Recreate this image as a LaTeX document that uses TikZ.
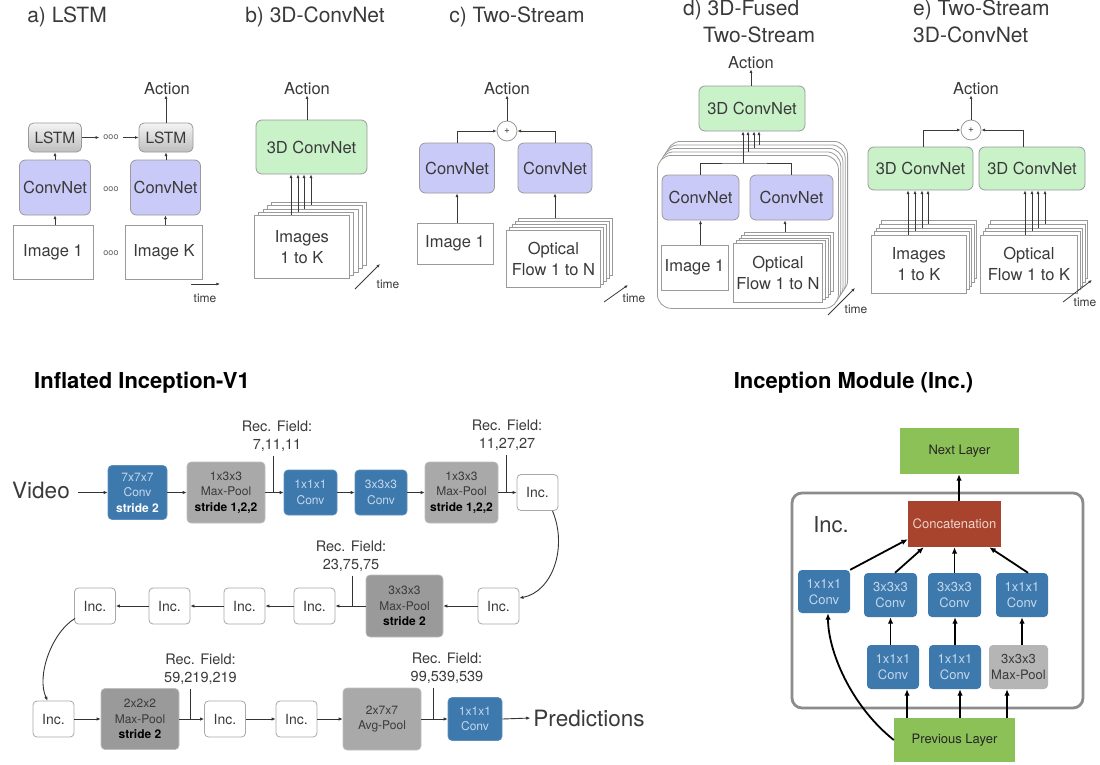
\documentclass[tikz,border=0pt]{standalone}
\usepackage{fontspec}
\setmainfont{TeX Gyre Heros}
\usetikzlibrary{arrows.meta,calc}

\definecolor{ink}{HTML}{3A3A3A}
\definecolor{boxline}{HTML}{9A9A9A}
\definecolor{purpfill}{HTML}{CACAF8}
\definecolor{greenfill}{HTML}{C9F2C9}
\definecolor{lstmtop}{HTML}{F4F4F4}
\definecolor{lstmbot}{HTML}{BEBEBE}
\definecolor{convfill}{HTML}{3E79AD}
\definecolor{convline}{HTML}{5F8FBC}
\definecolor{convtext}{HTML}{C4D8EC}
\definecolor{poolfill}{HTML}{A9A9A9}
\definecolor{pooldark}{HTML}{9A9A9A}
\definecolor{pooltext}{HTML}{3A3A3A}
\definecolor{incline}{HTML}{A8A8A8}
\definecolor{layergreen}{HTML}{8CC157}
\definecolor{catfill}{HTML}{A8442E}
\definecolor{cattext}{HTML}{EFD2CA}
\definecolor{modline}{HTML}{8C8C8C}

\newcommand\setfs[2]{\fontsize{#1}{#2}\selectfont}

\tikzset{
  plain/.style={inner sep=0pt, align=center, text=ink},
  lbl/.style={plain, font=\setfs{16.5}{21}},
  ttl/.style={plain, font=\setfs{21}{25}},
  bttl/.style={plain, text=black, font=\setfs{22}{26}\bfseries},
  tm/.style={plain, font=\setfs{12}{14}},
  dots/.style={plain, inner sep=4pt, text=black!60, font=\setfs{9}{9}},
  purpbox/.style={lbl, draw=boxline, fill=purpfill, rounded corners=6, line width=0.8},
  greenbox/.style={lbl, draw=boxline, fill=greenfill, rounded corners=6, line width=0.8},
  lstmbox/.style={plain, font=\setfs{15.5}{18}, draw=boxline, top color=lstmtop, bottom color=lstmbot, rounded corners=5, line width=0.8},
  framebox/.style={lbl, draw=boxline, fill=white, line width=0.8},
  sheet/.style={draw=boxline, fill=white, line width=0.8, inner sep=0pt},
  sumnode/.style={circle, draw=boxline, fill=white, line width=0.8, minimum size=20, inner sep=0pt, font=\setfs{10}{10}, text=ink},
  arr/.style={draw=ink, line width=0.8, -{Latex[length=3.6,width=3]}},
  link/.style={draw=ink, line width=0.8},
  convbox/.style={plain, draw=convline, fill=convfill, rounded corners=4, line width=0.6, text=convtext, font=\setfs{12}{15.5}},
  poolbox/.style={plain, draw=black!25, fill=poolfill, rounded corners=4, line width=0.6, text=pooltext, font=\setfs{12}{15.5}},
  incbox/.style={plain, draw=incline, fill=white, rounded corners=4, line width=0.8, minimum width=41, minimum height=36, font=\setfs{14}{16}},
  rfl/.style={plain, font=\setfs{14.5}{18}},
  big/.style={plain, font=\setfs{22.5}{26}},
  chain/.style={draw=black!80, line width=0.9, -{Latex[length=4,width=3.4]}},
  tick/.style={draw=black!80, line width=0.9},
  mbox/.style={plain, fill=convfill, rounded corners=4, text=convtext, font=\setfs{13}{16}},
  mpool/.style={plain, fill=black!29, rounded corners=4, text=pooltext, font=\setfs{13}{16}},
  greenlayer/.style={plain, fill=layergreen, font=\setfs{13}{16}, text=black!85},
  catbox/.style={plain, fill=catfill, text=cattext, font=\setfs{13}{16}, minimum width=93, minimum height=46},
  modbox/.style={draw=modline, line width=2.8, rounded corners=10, inner sep=0pt},
  marr/.style={draw=black, line width=1.8, -{Latex[length=6.5,width=5.5]}},
}

\begin{document}
\begin{tikzpicture}[x=1pt,y=-1pt]
\path[use as bounding box, fill=white] (0,0) rectangle (1100,764);

%% ---------------- a) LSTM ----------------
\node[ttl] (ta) at (67,17) {a) LSTM};
\node[lbl] (aact) at (167,89) {Action};
\node[lstmbox, minimum width=53, minimum height=29] (al1) at (55,137.5) {LSTM};
\node[lstmbox, minimum width=54, minimum height=29] (al2) at (166,137.5) {LSTM};
\node[dots] (ad1) at (111,137.5) {ooo};
\node[purpbox, minimum width=71, minimum height=55] (acn1) at (55,187.5) {ConvNet};
\node[purpbox, minimum width=70, minimum height=55] (acn2) at (165.5,187.5) {ConvNet};
\node[dots] (ad2) at (111,189) {ooo};
\node[framebox, minimum width=80, minimum height=54] (aim1) at (53,252) {Image 1};
\node[framebox, minimum width=77, minimum height=54] (aimK) at (164,252) {Image K};
\node[dots] (ad3) at (111,253) {ooo};
\draw[arr] (aim1.north -| acn1.south) -- (acn1.south);
\draw[arr] (aimK.north -| acn2.south) -- (acn2.south);
\draw[arr] (acn1.north) -- (al1.south);
\draw[arr] (acn2.north -| al2.south) -- (al2.south);
\draw[arr] (al1.east) -- (ad1.west);
\draw[arr] (ad1.east) -- (al2.west);
\draw[arr] (al2.north) -- (al2.north |- aact.south);
\coordinate (at0) at (191,284);
\coordinate (at1) at (220,284);
\draw[arr] (at0) -- (at1);
\node[tm] (atime) at (205,298) {time};

%% ---------------- b) 3D-ConvNet ----------------
\node[ttl] (tb) at (315,17) {b) 3D-ConvNet};
\node[lbl] (bact) at (307,89) {Action};
\node[greenbox, minimum width=111, minimum height=54] (b3d) at (311.5,147) {3D ConvNet};
\foreach \k in {4,3,2,1}
  \node[sheet, minimum width=95, minimum height=63, anchor=north west] (bimg\k) at ({254+4.25*\k},{215-3.25*\k}) {};
\node[framebox, minimum width=95, minimum height=63, anchor=north west] (bimg0) at (254,215) {Images\\1 to K};
\foreach \k/\xx in {0/291,1/298,2/304,3/311}
  \draw[arr] (\xx,0 |- bimg\k.north) -- (\xx,0 |- b3d.south);
\draw[arr] (bact.south |- b3d.north) -- (bact.south);
\coordinate (bt0) at (355,289);
\coordinate (bt1) at (380,264);
\draw[arr] (bt0) -- (bt1);
\node[tm] (btime) at (388,284) {time};

%% ---------------- c) Two-Stream ----------------
\node[ttl] (tc) at (517,17) {c) Two-Stream};
\node[lbl] (cact) at (507,89) {Action};
\node[sumnode] (cplus) at (507,131) {+};
\node[purpbox, minimum width=75, minimum height=50] (ccn1) at (457,168) {ConvNet};
\node[purpbox, minimum width=74, minimum height=50] (ccn2) at (555,168) {ConvNet};
\node[framebox, minimum width=76, minimum height=41] (cim1) at (455,243.5) {Image 1};
\foreach \k in {4,3,2,1}
  \node[sheet, minimum width=94, minimum height=57, anchor=north west] (copt\k) at ({506+3*\k},{230-3*\k}) {};
\node[framebox, minimum width=94, minimum height=57, anchor=north west] (copt0) at (506,230) {Optical\\Flow 1 to N};
\draw[arr] (cim1.north -| ccn1.south) -- (ccn1.south);
\draw[arr] (ccn2.south |- copt4.north) -- (ccn2.south);
\draw[arr] (ccn1.north) |- (cplus.west);
\draw[arr] (ccn2.north) |- (cplus.east);
\draw[arr] (cplus.north) -- (cact.south);
\coordinate (ct0) at (604,302);
\coordinate (ct1) at (628,285);
\draw[arr] (ct0) -- (ct1);
\node[tm] (ctime) at (634,298) {time};

%% ---------------- d) 3D-Fused Two-Stream ----------------
\node[ttl, anchor=west] (td1) at (683,10) {d) 3D-Fused};
\node[ttl, anchor=west] (td2) at (703,35) {Two-Stream};
\node[lbl] (dact) at (751,63) {Action};
\node[greenbox, minimum width=106, minimum height=45] (d3d) at (752,108.5) {3D ConvNet};
\foreach \k in {4,3,2,1}
  \node[sheet, rounded corners=14, minimum width=181, minimum height=153, anchor=north west] (dbox\k) at ({657+2.3*\k},{155-3.5*\k}) {};
\node[sheet, rounded corners=14, minimum width=181, minimum height=153, anchor=north west] (dbox0) at (657,155) {};
\node[purpbox, minimum width=77, minimum height=45] (dcn1) at (700.5,197.5) {ConvNet};
\node[purpbox, minimum width=83, minimum height=45] (dcn2) at (791.5,197.5) {ConvNet};
\node[framebox, minimum width=67, minimum height=45] (dim1) at (694.5,267.5) {Image 1};
\foreach \k in {4,3,2,1}
  \node[sheet, minimum width=89, minimum height=59, anchor=north west] (dopt\k) at ({733+2.75*\k},{243-2.75*\k}) {};
\node[framebox, minimum width=89, minimum height=59, anchor=north west] (dopt0) at (733,243) {Optical\\Flow 1 to N};
\coordinate (dj) at (743,163);
\draw[link] (dcn1.north) |- (dj) -| (dcn2.north);
\draw[arr] (dj) -- (dj |- d3d.south);
\foreach \k/\xx in {1/748,2/754,3/759}
  \draw[arr] (\xx,0 |- dbox\k.north) -- (\xx,0 |- d3d.south);
\draw[arr] (dim1.north -| dcn1.south) -- (dcn1.south);
\draw[arr] (785,0 |- dopt4.north) -- (785,0 |- dcn2.south);
\draw[arr] (dact.south |- d3d.north) -- (dact.south);
\coordinate (dt0) at (828,315);
\coordinate (dt1) at (855,288);
\draw[arr] (dt0) -- (dt1);
\node[tm] (dtime) at (856,309) {time};

%% ---------------- e) Two-Stream 3D-ConvNet ----------------
\node[ttl, anchor=west] (te1) at (913,10) {e) Two-Stream};
\node[ttl, anchor=west] (te2) at (913,35) {3D-ConvNet};
\node[lbl] (eact) at (976,89) {Action};
\node[sumnode] (eplus) at (971,130) {+};
\node[greenbox, minimum width=105, minimum height=43] (ecn1) at (920.5,168.5) {3D ConvNet};
\node[greenbox, minimum width=106, minimum height=43] (ecn2) at (1032,168.5) {3D ConvNet};
\foreach \k in {4,3,2,1}
  \node[sheet, minimum width=95, minimum height=58, anchor=north west] (eimg\k) at ({871+2.5*\k},{235-3.75*\k}) {};
\node[framebox, minimum width=95, minimum height=58, anchor=north west] (eimg0) at (871,235) {Images\\1 to K};
\foreach \k in {4,3,2,1}
  \node[sheet, minimum width=97, minimum height=58, anchor=north west] (eopt\k) at ({980+2.5*\k},{235-3.75*\k}) {};
\node[framebox, minimum width=97, minimum height=58, anchor=north west] (eopt0) at (980,235) {Optical\\Flow 1 to K};
\foreach \k/\xx in {0/908,1/915,2/922,3/928}
  \draw[arr] (\xx,0 |- eimg\k.north) -- (\xx,0 |- ecn1.south);
\foreach \k/\xx in {0/1025,1/1032,2/1038,3/1045}
  \draw[arr] (\xx,0 |- eopt\k.north) -- (\xx,0 |- ecn2.south);
\draw[arr] (923,0 |- ecn1.north) |- (eplus.west);
\draw[arr] (1023,0 |- ecn2.north) |- (eplus.east);
\draw[arr] (eplus.north) -- (eplus.north |- eact.south);
\coordinate (et0) at (1063,302);
\coordinate (et1) at (1092,280);
\draw[arr] (et0) -- (et1);
\node[tm] (etime) at (1085,302) {time};

%% ---------------- Inflated Inception-V1 ----------------
\node[bttl] (tinfl) at (142,383) {Inflated Inception-V1};

% first row
\node[big] (video) at (41,490) {Video};
\node[convbox, minimum width=59, minimum height=54] (c7) at (137.5,492.5) {7x7x7\\Conv\\\textcolor{white}{\bfseries stride 2}};
\node[poolbox, minimum width=78, minimum height=61] (mp1) at (226,492.5) {1x3x3\\Max-Pool\\\textcolor{black}{\bfseries stride 1,2,2}};
\node[convbox, minimum width=53, minimum height=45] (c1) at (310.5,492.5) {1x1x1\\Conv};
\node[convbox, minimum width=52, minimum height=45] (c3) at (381,492.5) {3x3x3\\Conv};
\node[poolbox, minimum width=73, minimum height=61] (mp2) at (461.5,492.5) {1x3x3\\Max-Pool\\\textcolor{black}{\bfseries stride 1,2,2}};
\node[incbox] (inc1) at (537.5,492.5) {Inc.};
\draw[chain] (video.east |- c7.west) ++(8,0) -- (c7.west);
\draw[chain] (c7.east) -- (mp1.west);
\draw[chain] (mp1.east) -- (c1.west);
\draw[chain] (c1.east) -- (c3.west);
\draw[chain] (c3.east) -- (mp2.west);
\draw[chain] (mp2.east) -- (inc1.west);
\node[rfl] (rf1) at (277,436) {Rec. Field:\\7,11,11};
\node[rfl] (rf2) at (507,435) {Rec. Field:\\11,27,27};
\coordinate (k1) at (273,492.5);
\coordinate (k2) at (506,492.5);
\draw[tick] ($(k1 |- rf1.south)+(0,4)$) -- (k1);
\draw[tick] ($(k2 |- rf2.south)+(0,4)$) -- (k2);

% second row (right to left)
\node[incbox] (incR) at (498.5,606) {Inc.};
\node[poolbox, fill=pooldark, minimum width=77, minimum height=62] (mp3) at (404.5,606) {3x3x3\\Max-Pool\\\textcolor{black}{\bfseries stride 2}};
\node[incbox] (incA) at (314.5,606) {Inc.};
\node[incbox] (incB) at (244.5,606) {Inc.};
\node[incbox] (incC) at (169.5,606) {Inc.};
\node[incbox] (incD) at (95,606) {Inc.};
\draw[chain] ($(inc1.south)+(15,0)$) .. controls (568,548) and (552,592) .. ($(incR.east)+(0,-8)$);
\draw[chain] (incR.west) -- (mp3.east);
\draw[chain] (mp3.west) -- (incA.east);
\draw[chain] (incA.west) -- (incB.east);
\draw[chain] (incB.west) -- (incC.east);
\draw[chain] (incC.west) -- (incD.east);
\node[rfl] (rf3) at (351,556) {Rec. Field:\\23,75,75};
\coordinate (k3) at (352,606);
\draw[tick] ($(k3 |- rf3.south)+(0,4)$) -- (k3);

% third row
\node[incbox] (incE0) at (53.5,719) {Inc.};
\node[poolbox, fill=pooldark, minimum width=78, minimum height=61] (mp4) at (140,719) {2x2x2\\Max-Pool\\\textcolor{black}{\bfseries stride 2}};
\node[incbox] (incE) at (225,719) {Inc.};
\node[incbox] (incF) at (296.5,719) {Inc.};
\node[poolbox, minimum width=78, minimum height=62] (avg) at (382,719) {2x7x7\\Avg-Pool};
\node[convbox, minimum width=54, minimum height=43] (cf) at (475,719) {1x1x1\\Conv};
\node[big] (pred) at (589,718) {Predictions};
\draw[chain] ($(incD.south west)+(1,-6)$) .. controls (52,632) and (36,676) .. ($(incE0.north)+(-6,0)$);
\draw[chain] (incE0.east) -- (mp4.west);
\draw[chain] (mp4.east) -- (incE.west);
\draw[chain] (incE.east) -- (incF.west);
\draw[chain] (incF.east) -- (avg.west);
\draw[chain] (avg.east) -- (cf.west);
\draw[chain] (cf.east) -- ($(pred.west)+(-3,0)$);
\node[rfl] (rf4) at (200.5,669.5) {Rec. Field:\\59,219,219};
\node[rfl] (rf5) at (447,668) {Rec. Field:\\99,539,539};
\coordinate (k4) at (190,719);
\coordinate (k5) at (433,719);
\draw[tick] ($(k4 |- rf4.south)+(0,4)$) -- (k4);
\draw[tick] ($(k5 |- rf5.south)+(0,4)$) -- (k5);

%% ---------------- Inception Module ----------------
\node[bttl] (tmod) at (853.5,383) {Inception Module (Inc.)};
\node[modbox, minimum width=291, minimum height=215] (mod) at (937.5,600.5) {};
\node[plain, font=\setfs{22}{24}] (modlbl) at (831,525) {Inc.};
\node[greenlayer, minimum width=119, minimum height=46] (next) at (959.5,451) {Next Layer};
\node[catbox] (cat) at (954.5,524) {Concatenation};
\node[mbox, minimum width=52, minimum height=43] (mA) at (824,591.5) {1x1x1\\Conv};
\node[mbox, minimum width=53, minimum height=44] (mB) at (890.5,595) {3x3x3\\Conv};
\node[mbox, minimum width=53, minimum height=44] (mC) at (954.5,595) {3x3x3\\Conv};
\node[mbox, minimum width=52, minimum height=44] (mD) at (1022,595) {1x1x1\\Conv};
\node[mbox, minimum width=52, minimum height=44] (mE) at (893,667) {1x1x1\\Conv};
\node[mbox, minimum width=52, minimum height=44] (mF) at (955,667) {1x1x1\\Conv};
\node[mpool, minimum width=59, minimum height=44] (mG) at (1018.5,667) {3x3x3\\Max-Pool};
\node[greenlayer, minimum width=121, minimum height=44] (prev) at (954.5,740) {Previous Layer};

\draw[marr] (959,0 |- cat.north) -- (959,0 |- next.south);
\draw[marr] (mA.north east) -- ($(cat.south west)+(0,-8)$);
\draw[marr] ($(mB.north)+(4.5,0)$) -- ($(cat.south west)+(16,0)$);
\draw[marr] (mC.north) -- (mC.north |- cat.south);
\draw[marr] ($(mD.north)+(6,0)$) -- ($(cat.south east)+(-12,0)$);
\draw[marr] (mE.north -| mB.south) -- (mB.south);
\draw[marr] (mF.north) -- (mF.north |- mC.south);
\draw[marr] (mG.north -| mD.south) -- (mD.south);
\draw[marr] (907,0 |- prev.north) -- (907,0 |- mE.south);
\draw[marr] (960,0 |- prev.north) -- (960,0 |- mF.south);
\draw[marr] (1007,0 |- prev.north) -- (1007,0 |- mG.south);
\draw[marr] (prev.west) .. controls (850,705) and (828,650) .. ($(mA.south)+(4,0)$);

\end{tikzpicture}
\end{document}
